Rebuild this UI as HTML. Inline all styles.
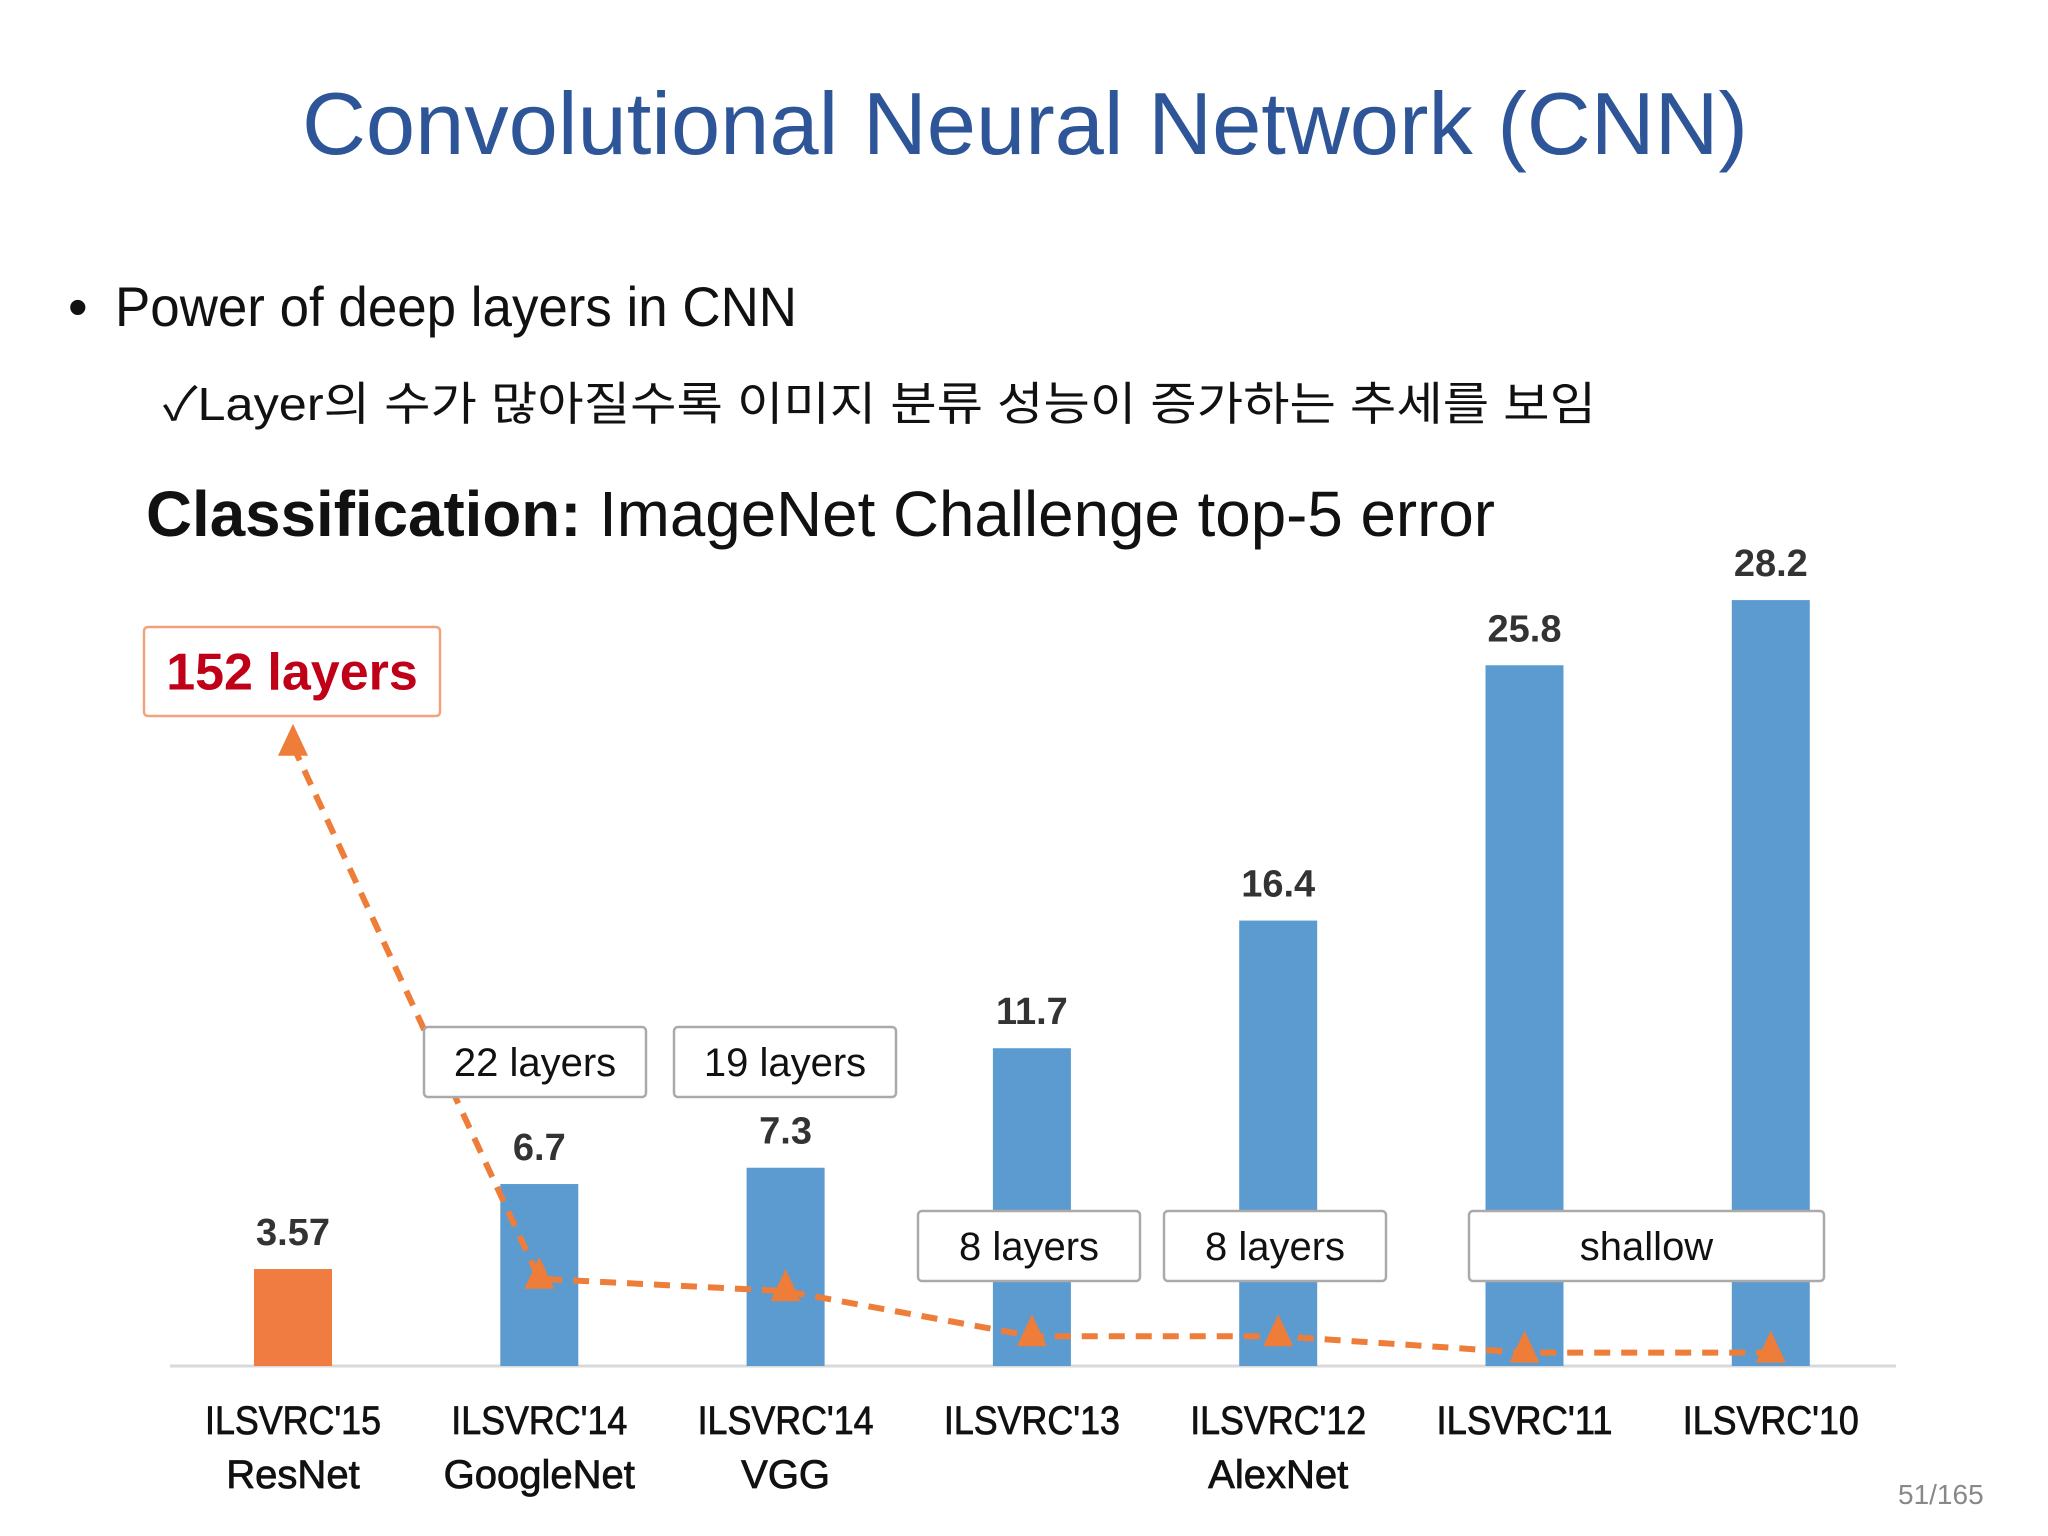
<!DOCTYPE html>
<html><head><meta charset="utf-8"><style>
html,body{margin:0;padding:0;background:#fff}
svg{display:block}
text{font-family:"Liberation Sans","Noto Sans CJK KR",sans-serif}
</style></head><body>
<svg id="chart" width="2048" height="1536" viewBox="0 0 2048 1536" xmlns="http://www.w3.org/2000/svg">
<rect width="2048" height="1536" fill="#fff"/>
<text x="302" y="154" font-size="88" fill="#2E5597" textLength="1446" lengthAdjust="spacingAndGlyphs">Convolutional Neural Network (CNN)</text>
<text x="68" y="326" font-size="56" fill="#111">•</text>
<text x="115" y="326" font-size="56" fill="#111" textLength="682" lengthAdjust="spacingAndGlyphs">Power of deep layers in CNN</text>
<text x="163" y="420" font-size="46" fill="#111" textLength="1433" lengthAdjust="spacingAndGlyphs">✓Layer의 수가 많아질수록 이미지 분류 성능이 증가하는 추세를 보임</text>
<text x="146" y="536" font-size="64" fill="#111" textLength="1349" lengthAdjust="spacingAndGlyphs"><tspan font-weight="bold">Classification:</tspan> ImageNet Challenge top-5 error</text>
<line x1="170" y1="1366" x2="1896" y2="1366" stroke="#d9d9d9" stroke-width="3"/>
<g id="bars"></g>
<g id="line"></g>
<g id="boxes"></g>
<g id="xlabels"></g>
<text x="1898" y="1504" font-size="28" fill="#888">51/165</text>
</svg>
<script>
const categories = ["ILSVRC'15","ILSVRC'14","ILSVRC'14","ILSVRC'13","ILSVRC'12","ILSVRC'11","ILSVRC'10"];
const models = ["ResNet","GoogleNet","VGG","","AlexNet","",""];
const errors = [3.57, 6.7, 7.3, 11.7, 16.4, 25.8, 28.2];
const errorLabels = ["3.57","6.7","7.3","11.7","16.4","25.8","28.2"];
const layers = [152, 22, 19, 8, 8, 4, 4];
const layerLabels = ["152 layers","22 layers","19 layers","8 layers","8 layers","shallow",""];

const NS = "http://www.w3.org/2000/svg";
const x0 = 293, step = 246.3, baseY = 1366;
const xScale = i => x0 + i * step;
const yErr = v => baseY - v * 27.16;
const yLay = v => 1369 - v * 4.1;
function mk(tag, attrs, parent){const e=document.createElementNS(NS,tag);for(const k in attrs)e.setAttribute(k,attrs[k]);parent.appendChild(e);return e;}
const gb=document.getElementById('bars'), gl=document.getElementById('line'), gx=document.getElementById('boxes'), gt=document.getElementById('xlabels');
errors.forEach((v,i)=>{
  const cx=xScale(i), bw=78;
  const r=mk('rect',{x:cx-bw/2,y:yErr(v),width:bw,height:baseY-yErr(v),fill:i===0?'#F07C42':'#5B9BD0'},gb);
  
  
  const t=mk('text',{x:cx,y:yErr(v)-24,'font-size':38,'font-weight':'bold','text-anchor':'middle',fill:'#333'},gb);
  t.textContent=errorLabels[i];
  
  
  const l1=mk('text',{x:cx,y:1434,'font-size':40,'text-anchor':'middle',fill:'#111',stroke:'#111','stroke-width':0.8,textLength:176,lengthAdjust:'spacingAndGlyphs'},gt);
  l1.textContent=categories[i];
  
  
  if(models[i]){
    const l2=mk('text',{x:cx,y:1488,'font-size':40,'text-anchor':'middle',fill:'#111',stroke:'#111','stroke-width':0.8},gt);
    l2.textContent=models[i];
    
    
  }
});
const pts=layers.map((v,i)=>[xScale(i),yLay(v)]);
const pl=mk('polyline',{points:pts.map(p=>p.join(',')).join(' '),fill:'none',stroke:'#EE7D3A','stroke-width':6,'stroke-dasharray':'16 11'},gl);


pts.forEach(p=>{
  const tr=mk('polygon',{points:`${p[0]},${p[1]-22} ${p[0]-15},${p[1]+10} ${p[0]+15},${p[1]+10}`,fill:'#EE7D3A'},gl);
  
  
});
const boxes=[[144,627,296,89,0],[424,1027,222,70,1],[674,1027,222,70,2],[918,1211,222,70,3],[1164,1211,222,70,4],[1469,1211,355,70,5]];
boxes.forEach(b=>{
  const red=b[4]===0;
  const r=mk('rect',{x:b[0],y:b[1],width:b[2],height:b[3],rx:4,fill:'#fff',stroke:red?'#F2A27A':'#aaa','stroke-width':2.5},gx);
  
  
  const t=mk('text',{x:b[0]+b[2]/2,y:b[1]+b[3]/2+(red?18:14),'font-size':red?52:40,'font-weight':red?'bold':'normal','text-anchor':'middle',fill:red?'#C00018':'#111'},gx);
  t.textContent=layerLabels[b[4]];
  
  
});
</script>
</body></html>
